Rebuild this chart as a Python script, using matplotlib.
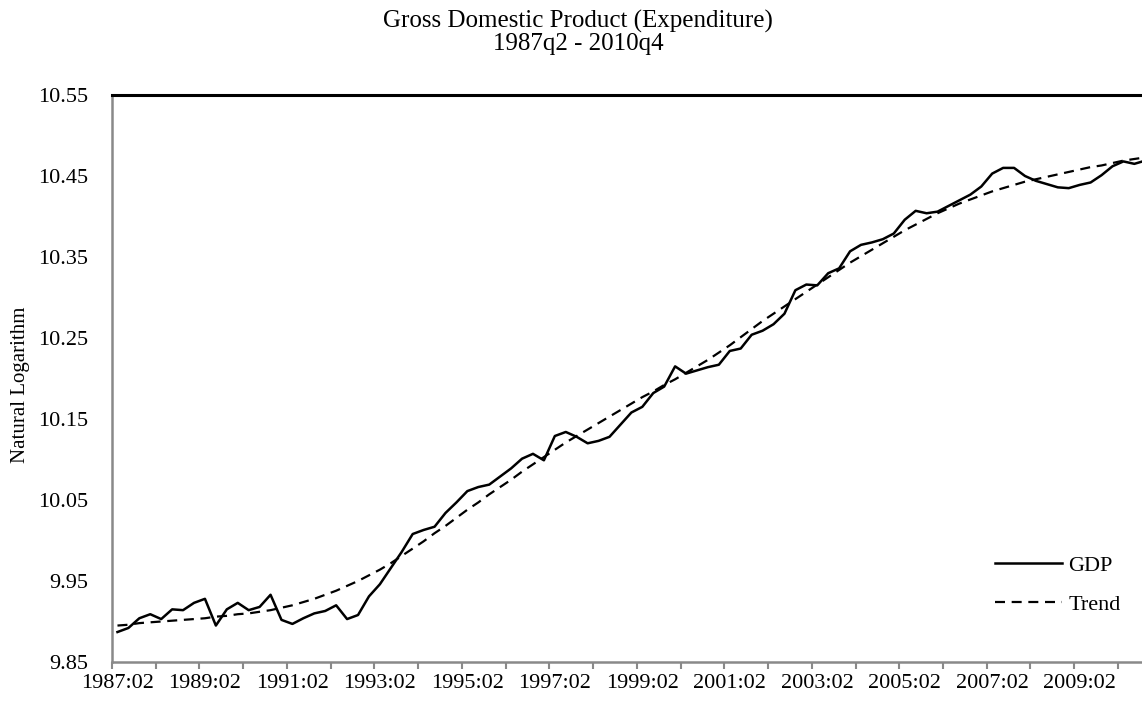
import matplotlib
matplotlib.use("Agg")
import matplotlib.pyplot as plt

# quarterly data, 1987q2 - 2010q4 (95 quarters), natural log of GDP
gdp = [9.887, 9.892, 9.904, 9.909, 9.903, 9.915, 9.914, 9.923, 9.928, 9.895,
       9.915, 9.923, 9.914, 9.918, 9.933, 9.902, 9.897, 9.904, 9.910, 9.913,
       9.920, 9.903, 9.908, 9.931, 9.946, 9.966, 9.986, 10.008, 10.013, 10.017,
       10.034, 10.047, 10.061, 10.066, 10.069, 10.079, 10.089, 10.101, 10.107, 10.099,
       10.129, 10.134, 10.128, 10.120, 10.123, 10.128, 10.143, 10.158, 10.165, 10.182,
       10.190, 10.215, 10.206, 10.210, 10.214, 10.217, 10.234, 10.237, 10.254, 10.259,
       10.267, 10.280, 10.309, 10.316, 10.315, 10.330, 10.336, 10.357, 10.365, 10.368,
       10.372, 10.379, 10.396, 10.407, 10.404, 10.406, 10.413, 10.420, 10.427, 10.437,
       10.453, 10.460, 10.460, 10.450, 10.444, 10.440, 10.436, 10.435, 10.439, 10.442,
       10.451, 10.462, 10.468, 10.465, 10.469]

trend = [9.895, 9.896, 9.898, 9.899, 9.900, 9.901, 9.902, 9.903, 9.904, 9.906,
         9.907, 9.909, 9.910, 9.912, 9.914, 9.917, 9.920, 9.924, 9.928, 9.933,
         9.938, 9.944, 9.950, 9.957, 9.964, 9.972, 9.981, 9.990, 9.999, 10.009,
         10.018, 10.028, 10.038, 10.047, 10.057, 10.066, 10.075, 10.085, 10.094, 10.103,
         10.112, 10.121, 10.129, 10.137, 10.145, 10.153, 10.161, 10.169, 10.177, 10.184,
         10.192, 10.199, 10.207, 10.215, 10.223, 10.232, 10.241, 10.251, 10.261, 10.271,
         10.280, 10.289, 10.298, 10.307, 10.316, 10.325, 10.334, 10.343, 10.351, 10.359,
         10.367, 10.375, 10.383, 10.390, 10.397, 10.404, 10.410, 10.416, 10.421, 10.426,
         10.431, 10.435, 10.439, 10.443, 10.446, 10.449, 10.452, 10.455, 10.458, 10.461,
         10.463, 10.466, 10.469, 10.471, 10.473]

tick_labels = ["1987:02", "1989:02", "1991:02", "1993:02", "1995:02", "1997:02",
               "1999:02", "2001:02", "2003:02", "2005:02", "2007:02", "2009:02"]
y_ticks = [9.85, 9.95, 10.05, 10.15, 10.25, 10.35, 10.45, 10.55]

plt.rcParams['font.family'] = ['Liberation Serif', 'DejaVu Serif']

fig = plt.figure(figsize=(11.42, 7.04), dpi=100)
ax = fig.add_axes([112 / 1142, 42 / 704, 1 - 112 / 1142, (662 - 95) / 704])

x = list(range(len(gdp)))
ax.plot(x, gdp, color='black', lw=1.8, label='GDP')
ax.plot(x, trend, color='black', lw=1.6, linestyle=(0, (4.5, 3)), label='Trend')

ax.set_xlim(-0.5, 93.7)
ax.set_ylim(9.85, 10.55)

# tick marks between categories every 4 quarters, labels every 8 quarters
ax.set_xticks([i - 0.5 for i in range(0, 95, 4)])
ax.set_xticklabels([])
ax.set_xticks(list(range(0, 95, 8)), minor=True)
ax.set_xticklabels(tick_labels, minor=True)
ax.tick_params(axis='x', which='major', length=5, width=1.5, color='#898989', direction='out')
ax.tick_params(axis='x', which='minor', length=0, pad=9, labelsize=16)

ax.set_yticks(y_ticks)
ax.set_yticklabels([f"{v:.2f}" for v in y_ticks])
ax.tick_params(axis='y', length=0, pad=17, labelsize=16)

for side in ['left', 'bottom']:
    ax.spines[side].set_color('#898989')
    ax.spines[side].set_linewidth(1.8)
ax.spines['right'].set_visible(False)
ax.spines['top'].set_color('black')
ax.spines['top'].set_linewidth(2.2)

fig.text(21 / 1142, 1 - 385 / 704, 'Natural Logarithm', rotation=90,
         ha='center', va='center', fontsize=15)
fig.text(578 / 1142, 1 - 21 / 704, 'Gross Domestic Product (Expenditure)',
         ha='center', va='center', fontsize=18)
fig.text(578 / 1142, 1 - 44 / 704, '1987q2 - 2010q4',
         ha='center', va='center', fontsize=18)

ax.legend(loc='upper left', bbox_to_anchor=(995 / 1142, 1 - 555 / 704),
          bbox_transform=fig.transFigure, frameon=False, fontsize=16,
          handlelength=3.0, handletextpad=0.3, labelspacing=0.85,
          borderpad=0, borderaxespad=0)

fig.savefig('out.png', dpi=100)
